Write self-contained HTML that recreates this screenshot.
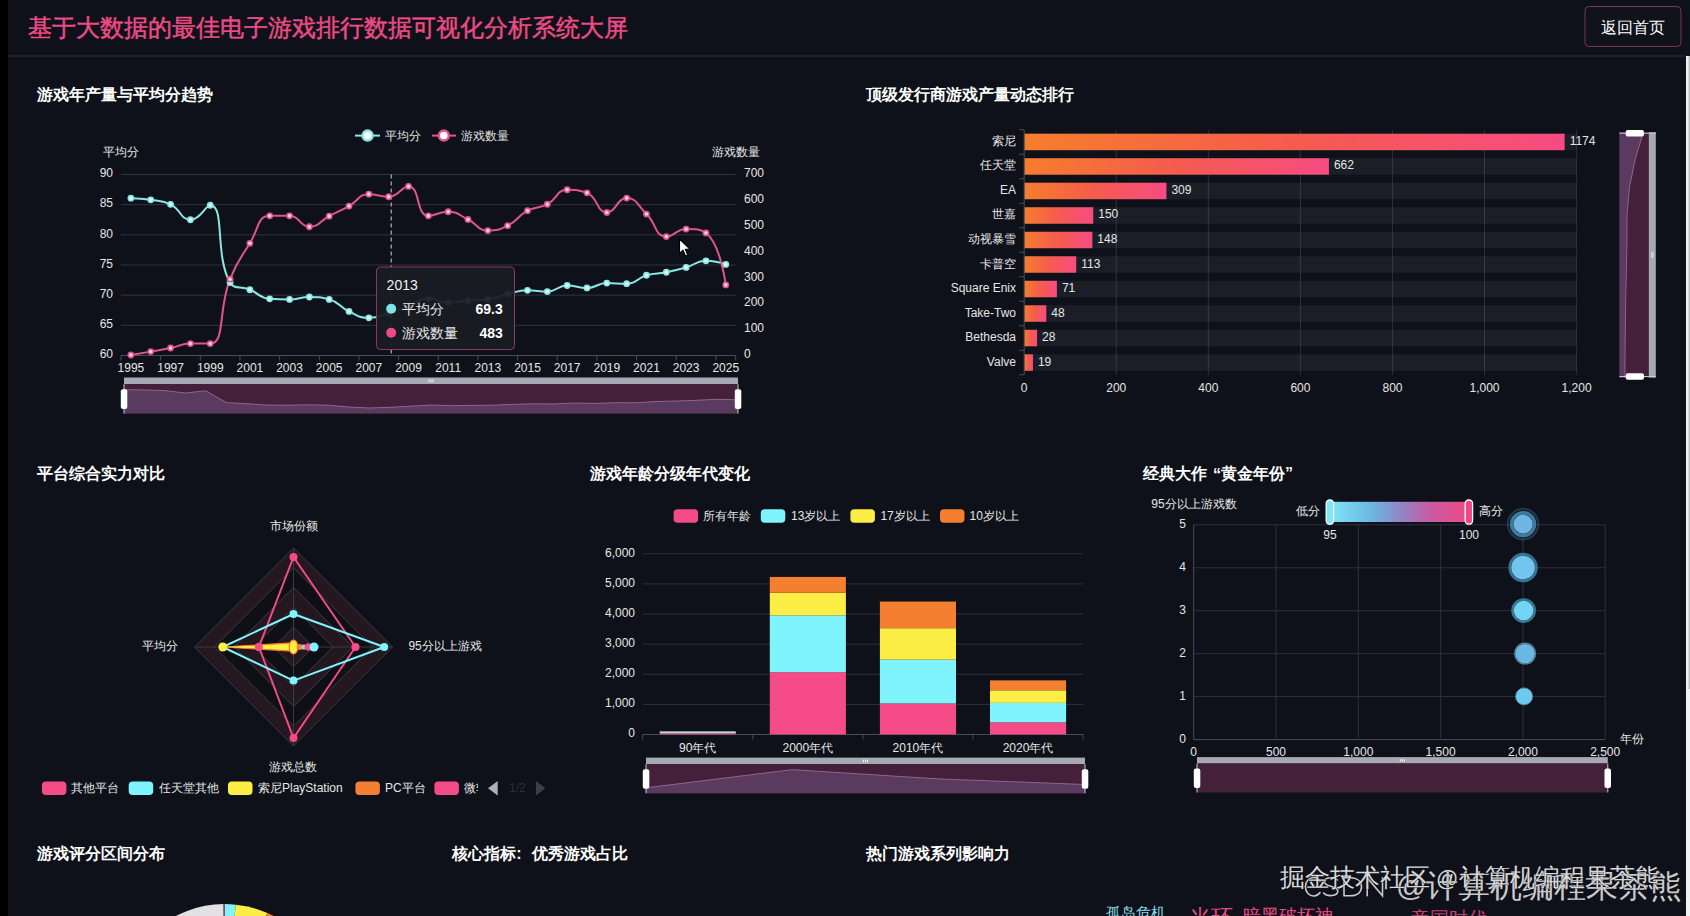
<!DOCTYPE html>
<html><head><meta charset="utf-8"><title>dashboard</title>
<style>html,body{margin:0;padding:0;background:#0e1119;overflow:hidden;width:1690px;height:916px}
svg{display:block;font-family:"Liberation Sans", sans-serif}</style></head>
<body><svg width="1690" height="916" viewBox="0 0 1690 916">
<rect width="1690" height="916" fill="#0e1119"/>
<rect x="0" y="0" width="8" height="916" fill="#000"/>
<rect x="8" y="55" width="1678" height="2" fill="#1d2029"/>
<text x="27.50" y="27.60" font-size="23.8" fill="#ec4b85" text-anchor="start" dominant-baseline="central" stroke="#ec4b85" stroke-width="0.45">基于大数据的最佳电子游戏排行数据可视化分析系统大屏</text>
<rect x="1585" y="6.5" width="96" height="40" rx="4" fill="#10131a" stroke="#7a3658" stroke-width="1"/>
<text x="1633.00" y="27.00" font-size="16" fill="#ffffff" text-anchor="middle" dominant-baseline="central">返回首页</text>
<rect x="1686" y="56" width="4" height="860" fill="#f1f1f1"/>
<rect x="1688.5" y="56" width="1.5" height="633" fill="#c1c1c1"/>
<text x="37.00" y="94.70" font-size="16" fill="#ffffff" text-anchor="start" dominant-baseline="central" font-weight="bold">游戏年产量与平均分趋势</text>
<text x="866.00" y="94.70" font-size="16" fill="#ffffff" text-anchor="start" dominant-baseline="central" font-weight="bold">顶级发行商游戏产量动态排行</text>
<text x="37.00" y="473.90" font-size="16" fill="#ffffff" text-anchor="start" dominant-baseline="central" font-weight="bold">平台综合实力对比</text>
<text x="590.00" y="473.90" font-size="16" fill="#ffffff" text-anchor="start" dominant-baseline="central" font-weight="bold">游戏年龄分级年代变化</text>
<text x="1143.00" y="473.90" font-size="16" fill="#ffffff" text-anchor="start" dominant-baseline="central" font-weight="bold">经典大作<tspan dx="6">“</tspan>黄金年份”</text>
<text x="37.00" y="853.10" font-size="16" fill="#ffffff" text-anchor="start" dominant-baseline="central" font-weight="bold">游戏评分区间分布</text>
<text x="866.00" y="853.10" font-size="16" fill="#ffffff" text-anchor="start" dominant-baseline="central" font-weight="bold">热门游戏系列影响力</text>
<text x="452.00" y="853.10" font-size="16" fill="#ffffff" text-anchor="start" dominant-baseline="central" font-weight="bold">核心指标</text>
<text x="516.30" y="853.10" font-size="16" fill="#ffffff" text-anchor="start" dominant-baseline="central" font-weight="bold">:</text>
<text x="532.00" y="853.10" font-size="16" fill="#ffffff" text-anchor="start" dominant-baseline="central" font-weight="bold">优秀游戏占比</text>
<line x1="121.0" x2="735.7" y1="174.50" y2="174.50" stroke="#32353c" stroke-width="1"/>
<text x="113.00" y="173.30" font-size="12" fill="#e6e6e6" text-anchor="end" dominant-baseline="central">90</text>
<line x1="121.0" x2="735.7" y1="204.67" y2="204.67" stroke="#32353c" stroke-width="1"/>
<text x="113.00" y="203.47" font-size="12" fill="#e6e6e6" text-anchor="end" dominant-baseline="central">85</text>
<line x1="121.0" x2="735.7" y1="234.83" y2="234.83" stroke="#32353c" stroke-width="1"/>
<text x="113.00" y="233.63" font-size="12" fill="#e6e6e6" text-anchor="end" dominant-baseline="central">80</text>
<line x1="121.0" x2="735.7" y1="265.00" y2="265.00" stroke="#32353c" stroke-width="1"/>
<text x="113.00" y="263.80" font-size="12" fill="#e6e6e6" text-anchor="end" dominant-baseline="central">75</text>
<line x1="121.0" x2="735.7" y1="295.17" y2="295.17" stroke="#32353c" stroke-width="1"/>
<text x="113.00" y="293.97" font-size="12" fill="#e6e6e6" text-anchor="end" dominant-baseline="central">70</text>
<line x1="121.0" x2="735.7" y1="325.33" y2="325.33" stroke="#32353c" stroke-width="1"/>
<text x="113.00" y="324.13" font-size="12" fill="#e6e6e6" text-anchor="end" dominant-baseline="central">65</text>
<text x="113.00" y="354.30" font-size="12" fill="#e6e6e6" text-anchor="end" dominant-baseline="central">60</text>
<text x="744.00" y="173.10" font-size="12" fill="#e6e6e6" text-anchor="start" dominant-baseline="central">700</text>
<text x="744.00" y="198.96" font-size="12" fill="#e6e6e6" text-anchor="start" dominant-baseline="central">600</text>
<text x="744.00" y="224.81" font-size="12" fill="#e6e6e6" text-anchor="start" dominant-baseline="central">500</text>
<text x="744.00" y="250.67" font-size="12" fill="#e6e6e6" text-anchor="start" dominant-baseline="central">400</text>
<text x="744.00" y="276.53" font-size="12" fill="#e6e6e6" text-anchor="start" dominant-baseline="central">300</text>
<text x="744.00" y="302.39" font-size="12" fill="#e6e6e6" text-anchor="start" dominant-baseline="central">200</text>
<text x="744.00" y="328.24" font-size="12" fill="#e6e6e6" text-anchor="start" dominant-baseline="central">100</text>
<text x="744.00" y="354.10" font-size="12" fill="#e6e6e6" text-anchor="start" dominant-baseline="central">0</text>
<line x1="121.0" x2="735.7" y1="355.50" y2="355.50" stroke="#4a4d55" stroke-width="1"/>
<line x1="121.00" x2="121.00" y1="355.50" y2="360.50" stroke="#4a4d55" stroke-width="1"/>
<line x1="160.66" x2="160.66" y1="355.50" y2="360.50" stroke="#4a4d55" stroke-width="1"/>
<line x1="200.32" x2="200.32" y1="355.50" y2="360.50" stroke="#4a4d55" stroke-width="1"/>
<line x1="239.97" x2="239.97" y1="355.50" y2="360.50" stroke="#4a4d55" stroke-width="1"/>
<line x1="279.63" x2="279.63" y1="355.50" y2="360.50" stroke="#4a4d55" stroke-width="1"/>
<line x1="319.29" x2="319.29" y1="355.50" y2="360.50" stroke="#4a4d55" stroke-width="1"/>
<line x1="358.95" x2="358.95" y1="355.50" y2="360.50" stroke="#4a4d55" stroke-width="1"/>
<line x1="398.61" x2="398.61" y1="355.50" y2="360.50" stroke="#4a4d55" stroke-width="1"/>
<line x1="438.26" x2="438.26" y1="355.50" y2="360.50" stroke="#4a4d55" stroke-width="1"/>
<line x1="477.92" x2="477.92" y1="355.50" y2="360.50" stroke="#4a4d55" stroke-width="1"/>
<line x1="517.58" x2="517.58" y1="355.50" y2="360.50" stroke="#4a4d55" stroke-width="1"/>
<line x1="557.24" x2="557.24" y1="355.50" y2="360.50" stroke="#4a4d55" stroke-width="1"/>
<line x1="596.90" x2="596.90" y1="355.50" y2="360.50" stroke="#4a4d55" stroke-width="1"/>
<line x1="636.55" x2="636.55" y1="355.50" y2="360.50" stroke="#4a4d55" stroke-width="1"/>
<line x1="676.21" x2="676.21" y1="355.50" y2="360.50" stroke="#4a4d55" stroke-width="1"/>
<line x1="715.87" x2="715.87" y1="355.50" y2="360.50" stroke="#4a4d55" stroke-width="1"/>
<line x1="735.70" x2="735.70" y1="355.50" y2="360.50" stroke="#4a4d55" stroke-width="1"/>
<text x="130.91" y="368.00" font-size="12" fill="#e6e6e6" text-anchor="middle" dominant-baseline="central">1995</text>
<text x="170.57" y="368.00" font-size="12" fill="#e6e6e6" text-anchor="middle" dominant-baseline="central">1997</text>
<text x="210.23" y="368.00" font-size="12" fill="#e6e6e6" text-anchor="middle" dominant-baseline="central">1999</text>
<text x="249.89" y="368.00" font-size="12" fill="#e6e6e6" text-anchor="middle" dominant-baseline="central">2001</text>
<text x="289.55" y="368.00" font-size="12" fill="#e6e6e6" text-anchor="middle" dominant-baseline="central">2003</text>
<text x="329.20" y="368.00" font-size="12" fill="#e6e6e6" text-anchor="middle" dominant-baseline="central">2005</text>
<text x="368.86" y="368.00" font-size="12" fill="#e6e6e6" text-anchor="middle" dominant-baseline="central">2007</text>
<text x="408.52" y="368.00" font-size="12" fill="#e6e6e6" text-anchor="middle" dominant-baseline="central">2009</text>
<text x="448.18" y="368.00" font-size="12" fill="#e6e6e6" text-anchor="middle" dominant-baseline="central">2011</text>
<text x="487.84" y="368.00" font-size="12" fill="#e6e6e6" text-anchor="middle" dominant-baseline="central">2013</text>
<text x="527.50" y="368.00" font-size="12" fill="#e6e6e6" text-anchor="middle" dominant-baseline="central">2015</text>
<text x="567.15" y="368.00" font-size="12" fill="#e6e6e6" text-anchor="middle" dominant-baseline="central">2017</text>
<text x="606.81" y="368.00" font-size="12" fill="#e6e6e6" text-anchor="middle" dominant-baseline="central">2019</text>
<text x="646.47" y="368.00" font-size="12" fill="#e6e6e6" text-anchor="middle" dominant-baseline="central">2021</text>
<text x="686.13" y="368.00" font-size="12" fill="#e6e6e6" text-anchor="middle" dominant-baseline="central">2023</text>
<text x="725.79" y="368.00" font-size="12" fill="#e6e6e6" text-anchor="middle" dominant-baseline="central">2025</text>
<text x="121.00" y="152.00" font-size="12" fill="#e6e6e6" text-anchor="middle" dominant-baseline="central">平均分</text>
<text x="735.70" y="152.00" font-size="12" fill="#e6e6e6" text-anchor="middle" dominant-baseline="central">游戏数量</text>
<line x1="391.2" x2="391.2" y1="174.5" y2="355.5" stroke="#d0d0d0" stroke-width="1" stroke-dasharray="4,3"/>
<path d="M130.91,198.21 C130.91,198.21 140.93,198.33 150.74,199.84 C160.76,201.38 161.71,199.85 170.57,204.30 C181.54,209.81 180.37,219.75 190.40,219.75 C200.20,219.75 205.56,205.27 210.23,205.27 C225.39,205.27 214.38,255.15 230.06,282.50 C234.21,289.74 240.13,285.73 249.89,289.74 C259.96,293.87 259.34,298.12 269.72,298.79 C279.17,299.39 279.67,299.39 289.55,299.39 C299.50,299.39 299.46,296.98 309.38,296.98 C319.29,296.98 320.03,296.98 329.20,299.39 C339.86,302.19 338.58,306.61 349.03,311.46 C358.41,315.81 358.83,317.79 368.86,317.79 C378.66,317.79 378.96,316.15 388.69,313.27 C398.79,310.27 398.62,309.69 408.52,306.03 C418.45,302.36 418.21,298.61 428.35,298.61 C438.04,298.61 438.19,302.59 448.18,302.59 C458.02,302.59 458.08,301.40 468.01,300.60 C477.91,299.80 478.09,300.60 487.84,299.39 C497.92,298.14 497.65,296.24 507.67,293.96 C517.48,291.72 517.51,290.34 527.50,290.34 C537.34,290.34 537.62,291.55 547.32,291.55 C557.45,291.55 557.06,285.51 567.15,285.51 C576.88,285.51 577.17,287.93 586.98,287.93 C597.00,287.93 596.76,283.10 606.81,283.10 C616.59,283.10 617.14,283.70 626.64,283.70 C636.97,283.70 636.20,278.23 646.47,275.26 C656.03,272.49 656.47,274.18 666.30,272.24 C676.30,270.26 676.33,270.24 686.13,267.41 C696.16,264.51 695.86,260.78 705.96,260.78 C715.69,260.78 725.79,264.40 725.79,264.40" fill="none" stroke="#8ae8e4" stroke-width="2"/>
<path d="M130.91,354.98 C130.91,354.98 140.84,353.36 150.74,351.62 C160.67,349.87 160.70,350.00 170.57,348.00 C180.52,345.99 180.37,343.61 190.40,343.61 C200.20,343.61 205.72,343.61 210.23,343.61 C225.55,343.61 217.74,310.39 230.06,279.22 C237.57,260.23 239.02,260.64 249.89,243.28 C258.85,228.97 257.22,215.87 269.72,215.87 C277.05,215.87 280.28,215.87 289.55,215.87 C300.11,215.87 299.43,226.73 309.38,226.73 C319.26,226.73 319.24,221.33 329.20,216.13 C339.07,210.99 339.31,211.43 349.03,206.05 C359.14,200.44 358.23,194.15 368.86,194.15 C378.06,194.15 379.33,196.74 388.69,196.74 C399.16,196.74 400.86,186.39 408.52,186.39 C420.69,186.39 415.72,215.87 428.35,215.87 C435.55,215.87 438.51,211.73 448.18,211.73 C458.34,211.73 458.42,214.93 468.01,219.49 C478.25,224.36 477.39,230.61 487.84,230.61 C497.22,230.61 498.72,230.19 507.67,225.70 C518.55,220.23 516.71,216.54 527.50,210.70 C536.54,205.80 538.22,209.05 547.32,204.24 C558.05,198.57 556.24,189.76 567.15,189.76 C576.07,189.76 578.69,189.76 586.98,192.86 C598.52,197.17 596.26,212.51 606.81,212.51 C616.09,212.51 616.91,198.03 626.64,198.03 C636.74,198.03 637.36,205.21 646.47,214.06 C657.19,224.47 654.68,236.56 666.30,236.56 C674.51,236.56 675.97,229.06 686.13,229.06 C695.80,229.06 700.67,229.06 705.96,232.94 C720.50,243.62 725.79,284.91 725.79,284.91" fill="none" stroke="#de558a" stroke-width="2"/>
<circle cx="130.91" cy="198.21" r="2.6" fill="#dffafc" stroke="#8ae8e4" stroke-width="1.6"/>
<circle cx="150.74" cy="199.84" r="2.6" fill="#dffafc" stroke="#8ae8e4" stroke-width="1.6"/>
<circle cx="170.57" cy="204.30" r="2.6" fill="#dffafc" stroke="#8ae8e4" stroke-width="1.6"/>
<circle cx="190.40" cy="219.75" r="2.6" fill="#dffafc" stroke="#8ae8e4" stroke-width="1.6"/>
<circle cx="210.23" cy="205.27" r="2.6" fill="#dffafc" stroke="#8ae8e4" stroke-width="1.6"/>
<circle cx="230.06" cy="282.50" r="2.6" fill="#dffafc" stroke="#8ae8e4" stroke-width="1.6"/>
<circle cx="249.89" cy="289.74" r="2.6" fill="#dffafc" stroke="#8ae8e4" stroke-width="1.6"/>
<circle cx="269.72" cy="298.79" r="2.6" fill="#dffafc" stroke="#8ae8e4" stroke-width="1.6"/>
<circle cx="289.55" cy="299.39" r="2.6" fill="#dffafc" stroke="#8ae8e4" stroke-width="1.6"/>
<circle cx="309.38" cy="296.98" r="2.6" fill="#dffafc" stroke="#8ae8e4" stroke-width="1.6"/>
<circle cx="329.20" cy="299.39" r="2.6" fill="#dffafc" stroke="#8ae8e4" stroke-width="1.6"/>
<circle cx="349.03" cy="311.46" r="2.6" fill="#dffafc" stroke="#8ae8e4" stroke-width="1.6"/>
<circle cx="368.86" cy="317.79" r="2.6" fill="#dffafc" stroke="#8ae8e4" stroke-width="1.6"/>
<circle cx="388.69" cy="313.27" r="2.6" fill="#dffafc" stroke="#8ae8e4" stroke-width="1.6"/>
<circle cx="408.52" cy="306.03" r="2.6" fill="#dffafc" stroke="#8ae8e4" stroke-width="1.6"/>
<circle cx="428.35" cy="298.61" r="2.6" fill="#dffafc" stroke="#8ae8e4" stroke-width="1.6"/>
<circle cx="448.18" cy="302.59" r="2.6" fill="#dffafc" stroke="#8ae8e4" stroke-width="1.6"/>
<circle cx="468.01" cy="300.60" r="2.6" fill="#dffafc" stroke="#8ae8e4" stroke-width="1.6"/>
<circle cx="487.84" cy="299.39" r="2.6" fill="#dffafc" stroke="#8ae8e4" stroke-width="1.6"/>
<circle cx="507.67" cy="293.96" r="2.6" fill="#dffafc" stroke="#8ae8e4" stroke-width="1.6"/>
<circle cx="527.50" cy="290.34" r="2.6" fill="#dffafc" stroke="#8ae8e4" stroke-width="1.6"/>
<circle cx="547.32" cy="291.55" r="2.6" fill="#dffafc" stroke="#8ae8e4" stroke-width="1.6"/>
<circle cx="567.15" cy="285.51" r="2.6" fill="#dffafc" stroke="#8ae8e4" stroke-width="1.6"/>
<circle cx="586.98" cy="287.93" r="2.6" fill="#dffafc" stroke="#8ae8e4" stroke-width="1.6"/>
<circle cx="606.81" cy="283.10" r="2.6" fill="#dffafc" stroke="#8ae8e4" stroke-width="1.6"/>
<circle cx="626.64" cy="283.70" r="2.6" fill="#dffafc" stroke="#8ae8e4" stroke-width="1.6"/>
<circle cx="646.47" cy="275.26" r="2.6" fill="#dffafc" stroke="#8ae8e4" stroke-width="1.6"/>
<circle cx="666.30" cy="272.24" r="2.6" fill="#dffafc" stroke="#8ae8e4" stroke-width="1.6"/>
<circle cx="686.13" cy="267.41" r="2.6" fill="#dffafc" stroke="#8ae8e4" stroke-width="1.6"/>
<circle cx="705.96" cy="260.78" r="2.6" fill="#dffafc" stroke="#8ae8e4" stroke-width="1.6"/>
<circle cx="725.79" cy="264.40" r="2.6" fill="#dffafc" stroke="#8ae8e4" stroke-width="1.6"/>
<circle cx="130.91" cy="354.98" r="2.6" fill="#fbd3e0" stroke="#de558a" stroke-width="1.6"/>
<circle cx="150.74" cy="351.62" r="2.6" fill="#fbd3e0" stroke="#de558a" stroke-width="1.6"/>
<circle cx="170.57" cy="348.00" r="2.6" fill="#fbd3e0" stroke="#de558a" stroke-width="1.6"/>
<circle cx="190.40" cy="343.61" r="2.6" fill="#fbd3e0" stroke="#de558a" stroke-width="1.6"/>
<circle cx="210.23" cy="343.61" r="2.6" fill="#fbd3e0" stroke="#de558a" stroke-width="1.6"/>
<circle cx="230.06" cy="279.22" r="2.6" fill="#fbd3e0" stroke="#de558a" stroke-width="1.6"/>
<circle cx="249.89" cy="243.28" r="2.6" fill="#fbd3e0" stroke="#de558a" stroke-width="1.6"/>
<circle cx="269.72" cy="215.87" r="2.6" fill="#fbd3e0" stroke="#de558a" stroke-width="1.6"/>
<circle cx="289.55" cy="215.87" r="2.6" fill="#fbd3e0" stroke="#de558a" stroke-width="1.6"/>
<circle cx="309.38" cy="226.73" r="2.6" fill="#fbd3e0" stroke="#de558a" stroke-width="1.6"/>
<circle cx="329.20" cy="216.13" r="2.6" fill="#fbd3e0" stroke="#de558a" stroke-width="1.6"/>
<circle cx="349.03" cy="206.05" r="2.6" fill="#fbd3e0" stroke="#de558a" stroke-width="1.6"/>
<circle cx="368.86" cy="194.15" r="2.6" fill="#fbd3e0" stroke="#de558a" stroke-width="1.6"/>
<circle cx="388.69" cy="196.74" r="2.6" fill="#fbd3e0" stroke="#de558a" stroke-width="1.6"/>
<circle cx="408.52" cy="186.39" r="2.6" fill="#fbd3e0" stroke="#de558a" stroke-width="1.6"/>
<circle cx="428.35" cy="215.87" r="2.6" fill="#fbd3e0" stroke="#de558a" stroke-width="1.6"/>
<circle cx="448.18" cy="211.73" r="2.6" fill="#fbd3e0" stroke="#de558a" stroke-width="1.6"/>
<circle cx="468.01" cy="219.49" r="2.6" fill="#fbd3e0" stroke="#de558a" stroke-width="1.6"/>
<circle cx="487.84" cy="230.61" r="2.6" fill="#fbd3e0" stroke="#de558a" stroke-width="1.6"/>
<circle cx="507.67" cy="225.70" r="2.6" fill="#fbd3e0" stroke="#de558a" stroke-width="1.6"/>
<circle cx="527.50" cy="210.70" r="2.6" fill="#fbd3e0" stroke="#de558a" stroke-width="1.6"/>
<circle cx="547.32" cy="204.24" r="2.6" fill="#fbd3e0" stroke="#de558a" stroke-width="1.6"/>
<circle cx="567.15" cy="189.76" r="2.6" fill="#fbd3e0" stroke="#de558a" stroke-width="1.6"/>
<circle cx="586.98" cy="192.86" r="2.6" fill="#fbd3e0" stroke="#de558a" stroke-width="1.6"/>
<circle cx="606.81" cy="212.51" r="2.6" fill="#fbd3e0" stroke="#de558a" stroke-width="1.6"/>
<circle cx="626.64" cy="198.03" r="2.6" fill="#fbd3e0" stroke="#de558a" stroke-width="1.6"/>
<circle cx="646.47" cy="214.06" r="2.6" fill="#fbd3e0" stroke="#de558a" stroke-width="1.6"/>
<circle cx="666.30" cy="236.56" r="2.6" fill="#fbd3e0" stroke="#de558a" stroke-width="1.6"/>
<circle cx="686.13" cy="229.06" r="2.6" fill="#fbd3e0" stroke="#de558a" stroke-width="1.6"/>
<circle cx="705.96" cy="232.94" r="2.6" fill="#fbd3e0" stroke="#de558a" stroke-width="1.6"/>
<circle cx="725.79" cy="284.91" r="2.6" fill="#fbd3e0" stroke="#de558a" stroke-width="1.6"/>
<line x1="355" x2="380" y1="135.6" y2="135.6" stroke="#8ae8e4" stroke-width="2"/>
<circle cx="367.6" cy="135.6" r="5" fill="#fff" stroke="#8ae8e4" stroke-width="2.5"/>
<text x="385.00" y="135.60" font-size="12" fill="#e0e0e0" text-anchor="start" dominant-baseline="central">平均分</text>
<line x1="432" x2="456" y1="135.6" y2="135.6" stroke="#de558a" stroke-width="2"/>
<circle cx="443.8" cy="135.6" r="5" fill="#fff" stroke="#de558a" stroke-width="2.5"/>
<text x="461.00" y="135.60" font-size="12" fill="#e0e0e0" text-anchor="start" dominant-baseline="central">游戏数量</text>
<rect x="124.0" y="377.5" width="614.0" height="6.7" fill="#a6a9b3"/>
<rect x="124.0" y="384.2" width="614.0" height="29.3" fill="#44203a"/>
<path d="M124.00,413.50 L124.00,389.69 L144.47,389.94 L164.93,390.63 L185.40,392.99 L205.87,390.77 L226.33,402.60 L246.80,403.71 L267.27,405.10 L287.73,405.19 L308.20,404.82 L328.67,405.19 L349.13,407.04 L369.60,408.01 L390.07,407.31 L410.53,406.20 L431.00,405.07 L451.47,405.68 L471.93,405.37 L492.40,405.19 L512.87,404.36 L533.33,403.80 L553.80,403.99 L574.27,403.06 L594.73,403.43 L615.20,402.69 L635.67,402.79 L656.13,401.49 L676.60,401.03 L697.07,400.29 L717.53,399.28 L738.00,399.83 L738.00,413.50 Z" fill="#5a3a5e"/>
<path d="M124.00,389.69 L144.47,389.94 L164.93,390.63 L185.40,392.99 L205.87,390.77 L226.33,402.60 L246.80,403.71 L267.27,405.10 L287.73,405.19 L308.20,404.82 L328.67,405.19 L349.13,407.04 L369.60,408.01 L390.07,407.31 L410.53,406.20 L431.00,405.07 L451.47,405.68 L471.93,405.37 L492.40,405.19 L512.87,404.36 L533.33,403.80 L553.80,403.99 L574.27,403.06 L594.73,403.43 L615.20,402.69 L635.67,402.79 L656.13,401.49 L676.60,401.03 L697.07,400.29 L717.53,399.28 L738.00,399.83" fill="none" stroke="#8e6590" stroke-width="1"/>
<rect x="428.5" y="379.5" width="1" height="2.6" fill="#f4f4f8"/>
<rect x="430.5" y="379.5" width="1" height="2.6" fill="#f4f4f8"/>
<rect x="432.5" y="379.5" width="1" height="2.6" fill="#f4f4f8"/>
<line x1="124.0" x2="124.0" y1="384.2" y2="413.5" stroke="#c8c8d0" stroke-width="1"/>
<rect x="120.8" y="389.2" width="6.5" height="19.8" rx="2" fill="#ffffff"/>
<line x1="738.0" x2="738.0" y1="384.2" y2="413.5" stroke="#c8c8d0" stroke-width="1"/>
<rect x="734.8" y="389.2" width="6.5" height="19.8" rx="2" fill="#ffffff"/>
<rect x="376.5" y="267" width="138" height="82.5" rx="4" fill="rgba(26,28,35,0.94)" stroke="#8c3a60" stroke-width="1"/>
<text x="386.60" y="284.50" font-size="14" fill="#f0f0f0" text-anchor="start" dominant-baseline="central">2013</text>
<circle cx="391.2" cy="308.7" r="5" fill="#7ee3ec"/>
<text x="402.40" y="308.70" font-size="14" fill="#e8e8e8" text-anchor="start" dominant-baseline="central">平均分</text>
<text x="502.80" y="308.70" font-size="14" fill="#ffffff" text-anchor="end" dominant-baseline="central" font-weight="bold">69.3</text>
<circle cx="391.2" cy="332.7" r="5" fill="#ec4a86"/>
<text x="402.40" y="332.70" font-size="14" fill="#e8e8e8" text-anchor="start" dominant-baseline="central">游戏数量</text>
<text x="502.80" y="332.70" font-size="14" fill="#ffffff" text-anchor="end" dominant-baseline="central" font-weight="bold">483</text>
<path d="M679.5,239 L679.5,253.5 L683,250.2 L685.6,256 L687.8,255 L685.3,249.4 L690,249.2 Z" fill="#fff" stroke="#000" stroke-width="1.1" stroke-linejoin="round"/>
<defs><linearGradient id="gbar" x1="0" x2="1" y1="0" y2="0"><stop offset="0" stop-color="#f67d2d"/><stop offset="0.5" stop-color="#f55b4e"/><stop offset="1" stop-color="#f74b82"/></linearGradient></defs>
<line x1="1116.27" x2="1116.27" y1="129.7" y2="374.8" stroke="#2c2f37" stroke-width="1"/>
<line x1="1208.33" x2="1208.33" y1="129.7" y2="374.8" stroke="#2c2f37" stroke-width="1"/>
<line x1="1300.40" x2="1300.40" y1="129.7" y2="374.8" stroke="#2c2f37" stroke-width="1"/>
<line x1="1392.47" x2="1392.47" y1="129.7" y2="374.8" stroke="#2c2f37" stroke-width="1"/>
<line x1="1484.53" x2="1484.53" y1="129.7" y2="374.8" stroke="#2c2f37" stroke-width="1"/>
<line x1="1576.60" x2="1576.60" y1="129.7" y2="374.8" stroke="#2c2f37" stroke-width="1"/>
<text x="1024.20" y="387.60" font-size="12" fill="#e6e6e6" text-anchor="middle" dominant-baseline="central">0</text>
<text x="1116.27" y="387.60" font-size="12" fill="#e6e6e6" text-anchor="middle" dominant-baseline="central">200</text>
<text x="1208.33" y="387.60" font-size="12" fill="#e6e6e6" text-anchor="middle" dominant-baseline="central">400</text>
<text x="1300.40" y="387.60" font-size="12" fill="#e6e6e6" text-anchor="middle" dominant-baseline="central">600</text>
<text x="1392.47" y="387.60" font-size="12" fill="#e6e6e6" text-anchor="middle" dominant-baseline="central">800</text>
<text x="1484.53" y="387.60" font-size="12" fill="#e6e6e6" text-anchor="middle" dominant-baseline="central">1,000</text>
<text x="1576.60" y="387.60" font-size="12" fill="#e6e6e6" text-anchor="middle" dominant-baseline="central">1,200</text>
<rect x="1024.20" y="133.70" width="552.40" height="16.50" fill="rgba(170,175,195,0.085)"/>
<rect x="1024.20" y="133.70" width="540.43" height="16.50" fill="url(#gbar)"/>
<text x="1569.63" y="140.95" font-size="12" fill="#e6e6e6" text-anchor="start" dominant-baseline="central">1174</text>
<text x="1016.00" y="140.95" font-size="12" fill="#e6e6e6" text-anchor="end" dominant-baseline="central">索尼</text>
<rect x="1024.20" y="158.21" width="552.40" height="16.50" fill="rgba(170,175,195,0.085)"/>
<rect x="1024.20" y="158.21" width="304.74" height="16.50" fill="url(#gbar)"/>
<text x="1333.94" y="165.46" font-size="12" fill="#e6e6e6" text-anchor="start" dominant-baseline="central">662</text>
<text x="1016.00" y="165.46" font-size="12" fill="#e6e6e6" text-anchor="end" dominant-baseline="central">任天堂</text>
<rect x="1024.20" y="182.72" width="552.40" height="16.50" fill="rgba(170,175,195,0.085)"/>
<rect x="1024.20" y="182.72" width="142.24" height="16.50" fill="url(#gbar)"/>
<text x="1171.44" y="189.97" font-size="12" fill="#e6e6e6" text-anchor="start" dominant-baseline="central">309</text>
<text x="1016.00" y="189.97" font-size="12" fill="#e6e6e6" text-anchor="end" dominant-baseline="central">EA</text>
<rect x="1024.20" y="207.24" width="552.40" height="16.50" fill="rgba(170,175,195,0.085)"/>
<rect x="1024.20" y="207.24" width="69.05" height="16.50" fill="url(#gbar)"/>
<text x="1098.25" y="214.49" font-size="12" fill="#e6e6e6" text-anchor="start" dominant-baseline="central">150</text>
<text x="1016.00" y="214.49" font-size="12" fill="#e6e6e6" text-anchor="end" dominant-baseline="central">世嘉</text>
<rect x="1024.20" y="231.75" width="552.40" height="16.50" fill="rgba(170,175,195,0.085)"/>
<rect x="1024.20" y="231.75" width="68.13" height="16.50" fill="url(#gbar)"/>
<text x="1097.33" y="239.00" font-size="12" fill="#e6e6e6" text-anchor="start" dominant-baseline="central">148</text>
<text x="1016.00" y="239.00" font-size="12" fill="#e6e6e6" text-anchor="end" dominant-baseline="central">动视暴雪</text>
<rect x="1024.20" y="256.25" width="552.40" height="16.50" fill="rgba(170,175,195,0.085)"/>
<rect x="1024.20" y="256.25" width="52.02" height="16.50" fill="url(#gbar)"/>
<text x="1081.22" y="263.50" font-size="12" fill="#e6e6e6" text-anchor="start" dominant-baseline="central">113</text>
<text x="1016.00" y="263.50" font-size="12" fill="#e6e6e6" text-anchor="end" dominant-baseline="central">卡普空</text>
<rect x="1024.20" y="280.76" width="552.40" height="16.50" fill="rgba(170,175,195,0.085)"/>
<rect x="1024.20" y="280.76" width="32.68" height="16.50" fill="url(#gbar)"/>
<text x="1061.88" y="288.01" font-size="12" fill="#e6e6e6" text-anchor="start" dominant-baseline="central">71</text>
<text x="1016.00" y="288.01" font-size="12" fill="#e6e6e6" text-anchor="end" dominant-baseline="central">Square Enix</text>
<rect x="1024.20" y="305.27" width="552.40" height="16.50" fill="rgba(170,175,195,0.085)"/>
<rect x="1024.20" y="305.27" width="22.10" height="16.50" fill="url(#gbar)"/>
<text x="1051.30" y="312.52" font-size="12" fill="#e6e6e6" text-anchor="start" dominant-baseline="central">48</text>
<text x="1016.00" y="312.52" font-size="12" fill="#e6e6e6" text-anchor="end" dominant-baseline="central">Take-Two</text>
<rect x="1024.20" y="329.78" width="552.40" height="16.50" fill="rgba(170,175,195,0.085)"/>
<rect x="1024.20" y="329.78" width="12.89" height="16.50" fill="url(#gbar)"/>
<text x="1042.09" y="337.03" font-size="12" fill="#e6e6e6" text-anchor="start" dominant-baseline="central">28</text>
<text x="1016.00" y="337.03" font-size="12" fill="#e6e6e6" text-anchor="end" dominant-baseline="central">Bethesda</text>
<rect x="1024.20" y="354.30" width="552.40" height="16.50" fill="rgba(170,175,195,0.085)"/>
<rect x="1024.20" y="354.30" width="8.75" height="16.50" fill="url(#gbar)"/>
<text x="1037.95" y="361.55" font-size="12" fill="#e6e6e6" text-anchor="start" dominant-baseline="central">19</text>
<text x="1016.00" y="361.55" font-size="12" fill="#e6e6e6" text-anchor="end" dominant-baseline="central">Valve</text>
<line x1="1024.20" x2="1024.20" y1="129.7" y2="374.8" stroke="#4a4d55" stroke-width="1"/>
<line x1="1019.20" x2="1024.20" y1="129.70" y2="129.70" stroke="#4a4d55" stroke-width="1"/>
<line x1="1019.20" x2="1024.20" y1="154.21" y2="154.21" stroke="#4a4d55" stroke-width="1"/>
<line x1="1019.20" x2="1024.20" y1="178.72" y2="178.72" stroke="#4a4d55" stroke-width="1"/>
<line x1="1019.20" x2="1024.20" y1="203.23" y2="203.23" stroke="#4a4d55" stroke-width="1"/>
<line x1="1019.20" x2="1024.20" y1="227.74" y2="227.74" stroke="#4a4d55" stroke-width="1"/>
<line x1="1019.20" x2="1024.20" y1="252.25" y2="252.25" stroke="#4a4d55" stroke-width="1"/>
<line x1="1019.20" x2="1024.20" y1="276.76" y2="276.76" stroke="#4a4d55" stroke-width="1"/>
<line x1="1019.20" x2="1024.20" y1="301.27" y2="301.27" stroke="#4a4d55" stroke-width="1"/>
<line x1="1019.20" x2="1024.20" y1="325.78" y2="325.78" stroke="#4a4d55" stroke-width="1"/>
<line x1="1019.20" x2="1024.20" y1="350.29" y2="350.29" stroke="#4a4d55" stroke-width="1"/>
<line x1="1019.20" x2="1024.20" y1="374.80" y2="374.80" stroke="#4a4d55" stroke-width="1"/>
<rect x="1619.4" y="132.2" width="29.4" height="245.5" fill="#44203a"/>
<rect x="1648.8" y="132.2" width="7.0" height="245.5" fill="#a6a9b3"/>
<path d="M1619.40,132.20 L1643.29,132.20 L1635.14,159.48 L1629.53,186.76 L1627.00,214.03 L1626.96,241.31 L1626.41,268.59 L1625.74,295.87 L1625.37,323.14 L1625.06,350.42 L1624.91,377.70 L1619.40,377.70 Z" fill="#5a3a5e"/>
<path d="M1643.29,132.20 L1635.14,159.48 L1629.53,186.76 L1627.00,214.03 L1626.96,241.31 L1626.41,268.59 L1625.74,295.87 L1625.37,323.14 L1625.06,350.42 L1624.91,377.70" fill="none" stroke="#8e6590" stroke-width="1"/>
<line x1="1619.4" x2="1655.8" y1="133.2" y2="133.2" stroke="#c8c8d0" stroke-width="1"/>
<rect x="1625.7" y="129.9" width="18.3" height="6.5" rx="2" fill="#ffffff"/>
<line x1="1619.4" x2="1655.8" y1="376.5" y2="376.5" stroke="#c8c8d0" stroke-width="1"/>
<rect x="1625.7" y="373.2" width="18.3" height="6.5" rx="2" fill="#ffffff"/>
<rect x="1650.9" y="252.5" width="2.8" height="1" fill="#f4f4f8"/>
<rect x="1650.9" y="254.5" width="2.8" height="1" fill="#f4f4f8"/>
<rect x="1650.9" y="256.5" width="2.8" height="1" fill="#f4f4f8"/>
<polygon points="293.50,548.00 194.50,647.00 293.50,746.00 392.50,647.00" fill="#251720"/>
<polygon points="293.50,567.80 214.30,647.00 293.50,726.20 372.70,647.00" fill="#0e1016"/>
<polygon points="293.50,587.60 234.10,647.00 293.50,706.40 352.90,647.00" fill="#251720"/>
<polygon points="293.50,607.40 253.90,647.00 293.50,686.60 333.10,647.00" fill="#0e1016"/>
<polygon points="293.50,627.20 273.70,647.00 293.50,666.80 313.30,647.00" fill="#251720"/>
<polygon points="293.50,627.20 273.70,647.00 293.50,666.80 313.30,647.00" fill="none" stroke="#3a3b43" stroke-width="1"/>
<polygon points="293.50,607.40 253.90,647.00 293.50,686.60 333.10,647.00" fill="none" stroke="#3a3b43" stroke-width="1"/>
<polygon points="293.50,587.60 234.10,647.00 293.50,706.40 352.90,647.00" fill="none" stroke="#3a3b43" stroke-width="1"/>
<polygon points="293.50,567.80 214.30,647.00 293.50,726.20 372.70,647.00" fill="none" stroke="#3a3b43" stroke-width="1"/>
<polygon points="293.50,548.00 194.50,647.00 293.50,746.00 392.50,647.00" fill="none" stroke="#3a3b43" stroke-width="1"/>
<line x1="293.50" y1="647.00" x2="293.50" y2="548.00" stroke="#383a42" stroke-width="1"/>
<line x1="293.50" y1="647.00" x2="194.50" y2="647.00" stroke="#383a42" stroke-width="1"/>
<line x1="293.50" y1="647.00" x2="293.50" y2="746.00" stroke="#383a42" stroke-width="1"/>
<line x1="293.50" y1="647.00" x2="392.50" y2="647.00" stroke="#383a42" stroke-width="1"/>
<polygon points="293.50,557.00 258.90,647.00 293.50,738.00 355.50,647.00" fill="none" stroke="#f54b87" stroke-width="2" stroke-linejoin="round"/>
<polygon points="293.50,614.00 222.80,647.00 293.50,680.60 384.20,647.00" fill="none" stroke="#80f4fc" stroke-width="2" stroke-linejoin="round"/>
<circle cx="293.50" cy="557.00" r="4" fill="#f54b87"/>
<circle cx="258.90" cy="647.00" r="4" fill="#f54b87"/>
<circle cx="293.50" cy="738.00" r="4" fill="#f54b87"/>
<circle cx="355.50" cy="647.00" r="4" fill="#f54b87"/>
<circle cx="293.50" cy="614.00" r="4" fill="#80f4fc"/>
<circle cx="222.80" cy="647.00" r="4" fill="#80f4fc"/>
<circle cx="293.50" cy="680.60" r="4" fill="#80f4fc"/>
<circle cx="384.20" cy="647.00" r="4" fill="#80f4fc"/>
<polygon points="293.50,642.80 222.80,647.00 293.50,651.20 299.50,647.00" fill="#fdee45" stroke="#f57f30" stroke-width="1.2" stroke-linejoin="round"/>
<polygon points="293.50,644.40 224.50,647.00 293.50,649.60 298.50,647.00" fill="#fdee45" stroke="none"/>
<ellipse cx="293.5" cy="647" rx="4.3" ry="7" fill="#fdee45" stroke="#f57f30" stroke-width="1.2"/>
<circle cx="222.8" cy="647" r="4.5" fill="#fdee45"/>
<circle cx="258.8" cy="647" r="4" fill="#f54b87"/>
<circle cx="299.6" cy="647" r="3" fill="#f57f30"/>
<circle cx="303.8" cy="647" r="2.6" fill="#9ad8c8"/>
<circle cx="308.4" cy="647" r="3.8" fill="#f54b87"/>
<circle cx="314" cy="647" r="4.5" fill="#80f4fc"/>
<text x="293.70" y="525.80" font-size="12" fill="#e6e6e6" text-anchor="middle" dominant-baseline="central">市场份额</text>
<text x="178.40" y="645.60" font-size="12" fill="#e6e6e6" text-anchor="end" dominant-baseline="central">平均分</text>
<text x="408.40" y="645.60" font-size="12" fill="#e6e6e6" text-anchor="start" dominant-baseline="central">95分以上游戏</text>
<text x="293.20" y="766.60" font-size="12" fill="#e6e6e6" text-anchor="middle" dominant-baseline="central">游戏总数</text>
<rect x="41.9" y="781.5" width="24.5" height="13.5" rx="4" fill="#f54b87"/><text x="70.80" y="788.20" font-size="12" fill="#e6e6e6" text-anchor="start" dominant-baseline="central">其他平台</text>
<rect x="128.7" y="781.5" width="24.5" height="13.5" rx="4" fill="#80f4fc"/><text x="158.50" y="788.20" font-size="12" fill="#e6e6e6" text-anchor="start" dominant-baseline="central">任天堂其他</text>
<rect x="228.0" y="781.5" width="24.5" height="13.5" rx="4" fill="#fdee45"/><text x="258.00" y="788.20" font-size="12" fill="#e6e6e6" text-anchor="start" dominant-baseline="central">索尼PlayStation</text>
<rect x="355.4" y="781.5" width="24.5" height="13.5" rx="4" fill="#f57f30"/><text x="384.90" y="788.20" font-size="12" fill="#e6e6e6" text-anchor="start" dominant-baseline="central">PC平台</text>
<rect x="434.4" y="781.5" width="24.5" height="13.5" rx="4" fill="#f54b87"/><text x="464.00" y="788.20" font-size="12" fill="#e6e6e6" text-anchor="start" dominant-baseline="central"></text>
<svg x="464" y="775" width="14" height="26" overflow="hidden"><text x="0.00" y="13.20" font-size="12" fill="#e6e6e6" text-anchor="start" dominant-baseline="central">微软</text></svg>
<path d="M488,788.2 L497.7,781 L497.7,795.4 Z" fill="#aab0bc"/>
<text x="517.30" y="788.20" font-size="12" fill="#2c3038" text-anchor="middle" dominant-baseline="central">1/2</text>
<path d="M545.4,788.2 L536,781 L536,795.4 Z" fill="#3a3f4a"/>
<text x="635.00" y="733.20" font-size="12" fill="#e6e6e6" text-anchor="end" dominant-baseline="central">0</text>
<line x1="642.7" x2="1083.1" y1="704.38" y2="704.38" stroke="#2e3138" stroke-width="1"/>
<text x="635.00" y="703.08" font-size="12" fill="#e6e6e6" text-anchor="end" dominant-baseline="central">1,000</text>
<line x1="642.7" x2="1083.1" y1="674.27" y2="674.27" stroke="#2e3138" stroke-width="1"/>
<text x="635.00" y="672.97" font-size="12" fill="#e6e6e6" text-anchor="end" dominant-baseline="central">2,000</text>
<line x1="642.7" x2="1083.1" y1="644.15" y2="644.15" stroke="#2e3138" stroke-width="1"/>
<text x="635.00" y="642.85" font-size="12" fill="#e6e6e6" text-anchor="end" dominant-baseline="central">3,000</text>
<line x1="642.7" x2="1083.1" y1="614.03" y2="614.03" stroke="#2e3138" stroke-width="1"/>
<text x="635.00" y="612.73" font-size="12" fill="#e6e6e6" text-anchor="end" dominant-baseline="central">4,000</text>
<line x1="642.7" x2="1083.1" y1="583.92" y2="583.92" stroke="#2e3138" stroke-width="1"/>
<text x="635.00" y="582.62" font-size="12" fill="#e6e6e6" text-anchor="end" dominant-baseline="central">5,000</text>
<line x1="642.7" x2="1083.1" y1="553.80" y2="553.80" stroke="#2e3138" stroke-width="1"/>
<text x="635.00" y="552.50" font-size="12" fill="#e6e6e6" text-anchor="end" dominant-baseline="central">6,000</text>
<line x1="642.7" x2="1083.1" y1="734.50" y2="734.50" stroke="#4a4d55" stroke-width="1"/>
<rect x="659.70" y="733.05" width="76.10" height="1.45" fill="#f54b87"/>
<rect x="659.70" y="731.49" width="76.10" height="1.57" fill="#80f4fc"/>
<rect x="659.70" y="731.25" width="76.10" height="0.24" fill="#fdee45"/>
<rect x="659.70" y="731.13" width="76.10" height="0.12" fill="#f57f30"/>
<text x="697.75" y="748.00" font-size="12" fill="#e6e6e6" text-anchor="middle" dominant-baseline="central">90年代</text>
<rect x="769.80" y="672.16" width="76.10" height="62.34" fill="#f54b87"/>
<rect x="769.80" y="615.33" width="76.10" height="56.83" fill="#80f4fc"/>
<rect x="769.80" y="592.59" width="76.10" height="22.74" fill="#fdee45"/>
<rect x="769.80" y="576.93" width="76.10" height="15.66" fill="#f57f30"/>
<text x="807.85" y="748.00" font-size="12" fill="#e6e6e6" text-anchor="middle" dominant-baseline="central">2000年代</text>
<rect x="879.90" y="703.48" width="76.10" height="31.02" fill="#f54b87"/>
<rect x="879.90" y="659.60" width="76.10" height="43.88" fill="#80f4fc"/>
<rect x="879.90" y="628.19" width="76.10" height="31.41" fill="#fdee45"/>
<rect x="879.90" y="601.57" width="76.10" height="26.62" fill="#f57f30"/>
<text x="917.95" y="748.00" font-size="12" fill="#e6e6e6" text-anchor="middle" dominant-baseline="central">2010年代</text>
<rect x="990.00" y="722.33" width="76.10" height="12.17" fill="#f54b87"/>
<rect x="990.00" y="702.88" width="76.10" height="19.46" fill="#80f4fc"/>
<rect x="990.00" y="690.32" width="76.10" height="12.56" fill="#fdee45"/>
<rect x="990.00" y="680.35" width="76.10" height="9.97" fill="#f57f30"/>
<text x="1028.05" y="748.00" font-size="12" fill="#e6e6e6" text-anchor="middle" dominant-baseline="central">2020年代</text>
<line x1="642.70" x2="642.70" y1="734.50" y2="739.50" stroke="#4a4d55" stroke-width="1"/>
<line x1="752.80" x2="752.80" y1="734.50" y2="739.50" stroke="#4a4d55" stroke-width="1"/>
<line x1="862.90" x2="862.90" y1="734.50" y2="739.50" stroke="#4a4d55" stroke-width="1"/>
<line x1="973.00" x2="973.00" y1="734.50" y2="739.50" stroke="#4a4d55" stroke-width="1"/>
<line x1="1083.10" x2="1083.10" y1="734.50" y2="739.50" stroke="#4a4d55" stroke-width="1"/>
<rect x="673.6" y="509.2" width="24.5" height="13.5" rx="4" fill="#f54b87"/><text x="702.60" y="516.00" font-size="12" fill="#e6e6e6" text-anchor="start" dominant-baseline="central">所有年龄</text>
<rect x="760.8" y="509.2" width="24.5" height="13.5" rx="4" fill="#80f4fc"/><text x="791.00" y="516.00" font-size="12" fill="#e6e6e6" text-anchor="start" dominant-baseline="central">13岁以上</text>
<rect x="850.4" y="509.2" width="24.5" height="13.5" rx="4" fill="#fdee45"/><text x="880.40" y="516.00" font-size="12" fill="#e6e6e6" text-anchor="start" dominant-baseline="central">17岁以上</text>
<rect x="940.0" y="509.2" width="24.5" height="13.5" rx="4" fill="#f57f30"/><text x="969.60" y="516.00" font-size="12" fill="#e6e6e6" text-anchor="start" dominant-baseline="central">10岁以上</text>
<rect x="646.0" y="757.6" width="439.0" height="6.6" fill="#a6a9b3"/>
<rect x="646.0" y="764.2" width="439.0" height="29.1" fill="#44203a"/>
<path d="M646.00,793.30 L646.00,787.84 L792.33,769.66 L938.67,778.93 L1085.00,784.51 L1085.00,793.30 Z" fill="#5a3a5e"/>
<path d="M646.00,787.84 L792.33,769.66 L938.67,778.93 L1085.00,784.51" fill="none" stroke="#8e6590" stroke-width="1"/>
<rect x="863.0" y="759.6" width="1" height="2.6" fill="#f4f4f8"/>
<rect x="865.0" y="759.6" width="1" height="2.6" fill="#f4f4f8"/>
<rect x="867.0" y="759.6" width="1" height="2.6" fill="#f4f4f8"/>
<line x1="646.0" x2="646.0" y1="764.2" y2="793.3" stroke="#c8c8d0" stroke-width="1"/>
<rect x="642.8" y="769.2" width="6.5" height="19.6" rx="2" fill="#ffffff"/>
<line x1="1085.0" x2="1085.0" y1="764.2" y2="793.3" stroke="#c8c8d0" stroke-width="1"/>
<rect x="1081.8" y="769.2" width="6.5" height="19.6" rx="2" fill="#ffffff"/>
<line x1="1193.7" x2="1605.2" y1="739.60" y2="739.60" stroke="#4a4d55" stroke-width="1"/>
<text x="1186.00" y="738.60" font-size="12" fill="#e6e6e6" text-anchor="end" dominant-baseline="central">0</text>
<line x1="1193.7" x2="1605.2" y1="696.64" y2="696.64" stroke="#2e3139" stroke-width="1"/>
<text x="1186.00" y="695.64" font-size="12" fill="#e6e6e6" text-anchor="end" dominant-baseline="central">1</text>
<line x1="1193.7" x2="1605.2" y1="653.68" y2="653.68" stroke="#2e3139" stroke-width="1"/>
<text x="1186.00" y="652.68" font-size="12" fill="#e6e6e6" text-anchor="end" dominant-baseline="central">2</text>
<line x1="1193.7" x2="1605.2" y1="610.72" y2="610.72" stroke="#2e3139" stroke-width="1"/>
<text x="1186.00" y="609.72" font-size="12" fill="#e6e6e6" text-anchor="end" dominant-baseline="central">3</text>
<line x1="1193.7" x2="1605.2" y1="567.76" y2="567.76" stroke="#2e3139" stroke-width="1"/>
<text x="1186.00" y="566.76" font-size="12" fill="#e6e6e6" text-anchor="end" dominant-baseline="central">4</text>
<line x1="1193.7" x2="1605.2" y1="524.80" y2="524.80" stroke="#2e3139" stroke-width="1"/>
<text x="1186.00" y="523.80" font-size="12" fill="#e6e6e6" text-anchor="end" dominant-baseline="central">5</text>
<line x1="1193.70" x2="1193.70" y1="524.8" y2="739.6" stroke="#4a4d55" stroke-width="1"/>
<text x="1193.70" y="752.30" font-size="12" fill="#e6e6e6" text-anchor="middle" dominant-baseline="central">0</text>
<line x1="1276.00" x2="1276.00" y1="524.8" y2="739.6" stroke="#2e3139" stroke-width="1"/>
<text x="1276.00" y="752.30" font-size="12" fill="#e6e6e6" text-anchor="middle" dominant-baseline="central">500</text>
<line x1="1358.30" x2="1358.30" y1="524.8" y2="739.6" stroke="#2e3139" stroke-width="1"/>
<text x="1358.30" y="752.30" font-size="12" fill="#e6e6e6" text-anchor="middle" dominant-baseline="central">1,000</text>
<line x1="1440.60" x2="1440.60" y1="524.8" y2="739.6" stroke="#2e3139" stroke-width="1"/>
<text x="1440.60" y="752.30" font-size="12" fill="#e6e6e6" text-anchor="middle" dominant-baseline="central">1,500</text>
<line x1="1522.90" x2="1522.90" y1="524.8" y2="739.6" stroke="#2e3139" stroke-width="1"/>
<text x="1522.90" y="752.30" font-size="12" fill="#e6e6e6" text-anchor="middle" dominant-baseline="central">2,000</text>
<line x1="1605.20" x2="1605.20" y1="524.8" y2="739.6" stroke="#2e3139" stroke-width="1"/>
<text x="1605.20" y="752.30" font-size="12" fill="#e6e6e6" text-anchor="middle" dominant-baseline="central">2,500</text>
<text x="1193.90" y="504.20" font-size="12" fill="#e6e6e6" text-anchor="middle" dominant-baseline="central">95分以上游戏数</text>
<text x="1620.00" y="738.80" font-size="12" fill="#e6e6e6" text-anchor="start" dominant-baseline="central">年份</text>
<circle cx="1523.1" cy="524.1" r="11.4" fill="none" stroke="#4a8cb4" stroke-opacity="0.85" stroke-width="3.6"/>
<circle cx="1523.1" cy="524.1" r="15.2" fill="none" stroke="#2c5472" stroke-opacity="0.60" stroke-width="2.2"/>
<circle cx="1523.1" cy="524.1" r="9.5" fill="#70b6e2"/>
<circle cx="1523.1" cy="567.6" r="13.3" fill="none" stroke="#3f82a6" stroke-opacity="0.85" stroke-width="2.9"/>
<circle cx="1523.1" cy="567.6" r="11.8" fill="#72c6ee"/>
<circle cx="1523.6" cy="610.6" r="11.1" fill="none" stroke="#3f8aa8" stroke-opacity="0.85" stroke-width="2.6"/>
<circle cx="1523.6" cy="610.6" r="9.8" fill="#72d4f2"/>
<circle cx="1525.1" cy="653.6" r="10.3" fill="none" stroke="#8fcbe8" stroke-opacity="0.60" stroke-width="1.4"/>
<circle cx="1525.1" cy="653.6" r="9.7" fill="#6ab8e4"/>
<circle cx="1524.1" cy="696.4" r="8.5" fill="none" stroke="#9adcf4" stroke-opacity="0.50" stroke-width="1.0"/>
<circle cx="1524.1" cy="696.4" r="8.2" fill="#6ccaf0"/>
<defs><linearGradient id="gvm" x1="0" x2="1" y1="0" y2="0"><stop offset="0" stop-color="#7ee6f6"/><stop offset="0.3" stop-color="#6cb6e0"/><stop offset="0.5" stop-color="#8f88c6"/><stop offset="0.72" stop-color="#c85aa4"/><stop offset="1" stop-color="#ec4a84"/></linearGradient></defs>
<rect x="1330.5" y="501.8" width="138" height="20.2" fill="url(#gvm)"/>
<rect x="1326.2" y="500" width="7.4" height="24.2" rx="3.5" fill="#7ee8f8" stroke="#ffffff" stroke-width="1.3"/>
<rect x="1465.2" y="500" width="7.4" height="24.2" rx="3.5" fill="#ec4a84" stroke="#ffffff" stroke-width="1.3"/>
<text x="1319.50" y="510.60" font-size="12" fill="#e6e6e6" text-anchor="end" dominant-baseline="central">低分</text>
<text x="1478.90" y="510.60" font-size="12" fill="#e6e6e6" text-anchor="start" dominant-baseline="central">高分</text>
<text x="1330.00" y="534.90" font-size="12" fill="#e6e6e6" text-anchor="middle" dominant-baseline="central">95</text>
<text x="1469.00" y="534.90" font-size="12" fill="#e6e6e6" text-anchor="middle" dominant-baseline="central">100</text>
<rect x="1197.0" y="757.1" width="410.8" height="6.4" fill="#a6a9b3"/>
<rect x="1197.0" y="763.5" width="410.8" height="29.0" fill="#44203a"/>
<rect x="1399.9" y="759.1" width="1" height="2.6" fill="#f4f4f8"/>
<rect x="1401.9" y="759.1" width="1" height="2.6" fill="#f4f4f8"/>
<rect x="1403.9" y="759.1" width="1" height="2.6" fill="#f4f4f8"/>
<line x1="1197.0" x2="1197.0" y1="763.5" y2="792.5" stroke="#c8c8d0" stroke-width="1"/>
<rect x="1193.8" y="768.5" width="6.5" height="19.5" rx="2" fill="#ffffff"/>
<line x1="1607.8" x2="1607.8" y1="763.5" y2="792.5" stroke="#c8c8d0" stroke-width="1"/>
<rect x="1604.5" y="768.5" width="6.5" height="19.5" rx="2" fill="#ffffff"/>
<path d="M224.80,1010.90 L224.80,904.10 A106.80,106.80 0 0 1 235.78,904.67 Z" fill="#80f4fc"/>
<path d="M224.80,1010.90 L235.78,904.67 A106.80,106.80 0 0 1 267.39,912.96 Z" fill="#fdee45"/>
<path d="M224.80,1010.90 L267.39,912.96 A106.80,106.80 0 0 1 317.29,957.50 Z" fill="#f57f30"/>
<path d="M224.80,1010.90 L317.29,957.50 A106.80,106.80 0 0 1 188.27,1111.26 Z" fill="#f54b87"/>
<path d="M224.80,1010.90 L188.27,1111.26 A106.80,106.80 0 0 1 223.50,904.11 Z" fill="#e2e2e4"/>
<path d="M224.80,1010.90 L223.50,904.11 A106.80,106.80 0 0 1 224.80,904.10 Z" fill="#a0507e"/>
<text x="1105.6" y="917.6" font-size="14.9" fill="#86dbe6">孤岛危机</text>
<text x="1189.2" y="925.2" font-size="21.5" fill="#ec4b85">光环</text>
<text x="1242.5" y="922.4" font-size="17.8" fill="#ec4b85">暗黑破坏神</text>
<text x="1410.8" y="925" font-size="19" fill="#c4406f">帝国时代</text>
<path d="M1320,881 A8.2,9.2 0 1 0 1320,892.5" fill="none" stroke="#c9c9cb" stroke-width="1.6" stroke-linecap="round"/>
<path d="M1337.5,880 C1334,876.5 1324.5,877 1324.5,882 C1324.5,887 1337.8,885.5 1337.8,891 C1337.8,896.5 1327,897 1323.6,893" fill="none" stroke="#c9c9cb" stroke-width="1.6" stroke-linecap="round"/>
<path d="M1344,877.8 L1350,877.8 C1358,877.8 1361.5,882 1361.5,886.8 C1361.5,891.6 1358,895.8 1350,895.8 L1344,895.8 Z" fill="none" stroke="#c9c9cb" stroke-width="1.6" stroke-linecap="round"/>
<path d="M1367.2,895.8 L1367.2,877.8 L1382.5,895.8 L1382.5,877.8" fill="none" stroke="#c9c9cb" stroke-width="1.6" stroke-linecap="round"/>
<text x="1396" y="896" font-size="30" font-weight="200" fill="#c9c9cb">@</text>
<text x="1425.5" y="896.5" font-size="32.3" font-weight="200" fill="#c9c9cb">计算机编程果茶熊</text>
<text x="1280" y="886.2" font-size="25" fill="#d8d8d8" stroke="#0f1219" stroke-width="0.6" paint-order="stroke">掘金技术社区</text>
<text x="1436" y="885.5" font-size="22" fill="#d8d8d8" stroke="#0f1219" stroke-width="0.6" paint-order="stroke">@</text>
<text x="1460" y="886.2" font-size="25" fill="#d8d8d8" stroke="#0f1219" stroke-width="0.6" paint-order="stroke">计算机编程果茶熊</text>
</svg></body></html>
